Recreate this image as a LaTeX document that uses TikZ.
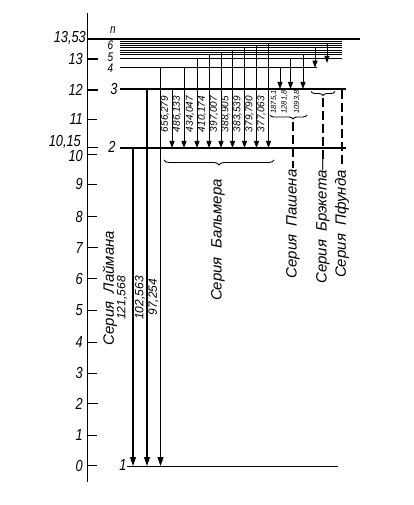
\documentclass[tikz,border=0pt]{standalone}
\usepackage{fontspec}
\setmainfont{Liberation Sans}
\newfontfamily\gostc{Liberation Sans}[FakeStretch=0.8]
\usetikzlibrary{arrows.meta,decorations.pathreplacing}
\tikzset{
  lvl/.style={line width=1.4pt},
  thinlvl/.style={line width=0.6pt},
  ion/.style={line width=2pt},
  tickmark/.style={line width=0.9pt},
  bigtick/.style={line width=1.6pt},
  tr/.style={line width=1pt,-{Triangle[width=5pt,length=7pt]}},
  ly/.style={line width=1.2pt,-{Triangle[width=6pt,length=9pt]}},
  ticklab/.style={anchor=east,inner sep=0pt,font=\gostc\itshape\fontsize{16}{16}\selectfont},
  lvllab/.style={inner sep=0pt,font=\gostc\itshape\fontsize{16}{16}\selectfont},
  smlvl/.style={inner sep=0pt,font=\gostc\itshape\fontsize{12.5}{12.5}\selectfont},
  wl/.style={rotate=90,inner sep=0pt,font=\itshape\fontsize{10}{10}\selectfont},
  wlsmall/.style={rotate=90,inner sep=0pt,font=\itshape\fontsize{7.5}{7.5}\selectfont},
  wlbig/.style={rotate=90,inner sep=0pt,font=\itshape\fontsize{12}{12}\selectfont},
  serlab/.style={rotate=90,inner sep=0pt,font=\itshape\fontsize{15}{15}\selectfont},
  brc/.style={line width=0.9pt,decorate},
  dsh/.style={line width=1.1pt,dash pattern=on 9pt off 4pt},
}
\begin{document}
\begin{tikzpicture}[x=1pt,y=-1pt]
\useasboundingbox (0,0) rectangle (413,505);
% axis
\draw[line width=1.4pt] (87.5,13) coordinate (axtop) -- (87.5,482) coordinate (axbot);
% ticks and labels
\foreach \v/\yy in {0/465.5,1/435,3/373,4/342,5/310,6/278.5,8/216.5,9/184,11/119}{
  \draw[tickmark] (87.5,\yy) -- (97,\yy);
  \node[ticklab] at (83,\yy) {\v};
}
\foreach \v/\yy in {2/403.5,7/247.5,12/90,13/59}{
  \draw[bigtick] (87.5,\yy) -- (98,\yy);
  \node[ticklab] at (83,\yy) {\v};
}
\draw[tickmark] (87.5,154) -- (97,154);
\node[ticklab] at (83,155.5) {10};
\draw[bigtick] (87.5,147.5) -- (98,147.5);
\node[ticklab] at (81,142) {10,15};
\node[ticklab] at (86,38) {13,53};
% levels
\draw[ion] (87.5,39) coordinate (Linf0) -- (360,39) coordinate (Linf1);
\foreach \yy in {41.5,43.3,45.7,47.7,50,52.3,54.3}{
  \draw[thinlvl] (120,\yy) -- (342,\yy);
}
\draw[thinlvl] (120,58) coordinate (L5a) -- (342,58) coordinate (L5b);
\draw[lvl] (120,67.7) coordinate (L4a) -- (317,67.7) coordinate (L4b);
\draw[lvl] (120,89) coordinate (L3a) -- (346,89) coordinate (L3b);
\draw[lvl] (120,148) coordinate (L2a) -- (346,148) coordinate (L2b);
\draw[line width=0.8pt] (127,466) coordinate (L1a) -- (338,466) coordinate (L1b);
% level labels
\node[smlvl] (nlab) at (113,30) {n};
\node[smlvl] (l6) at (110.5,45) {6};
\node[smlvl] (l5) at (110.5,57) {5};
\node[smlvl] (l4) at (110.5,68.5) {4};
\node[lvllab] (l3) at (114,89) {3};
\node[lvllab] (l2) at (112,147) {2};
\node[lvllab] (l1) at (123,465) {1};
% Lyman
\draw[ly] (133,148) -- (133,466);
\draw[ly] (147,89) -- (147,466);
\draw[ly] (160.5,67.7) -- (160.5,466);
\node[serlab] (lyman) at (110,288) {Серия\ \ Лаймана};
\node[wlbig] (w1) at (122,298) {121,568};
\node[wlbig] (w2) at (140,298) {102,563};
\node[wlbig] (w3) at (153.5,297) {97,254};
% Balmer
\foreach \xx/\ys/\lab in {172/89/{656,279},184/67.7/{486,133},197/58/{434,047},209/54.3/{410,174},221/52.3/{397,007},232.5/50/{388,905},244.5/47.7/{383,539},256.5/45.7/{379,790},268.5/43.3/{377,063}}{
  \draw[tr] (\xx,\ys) -- (\xx,148);
  \node[wl] at (\xx-7,114) {\lab};
}
\draw[brc,decoration={brace,mirror,amplitude=5pt}] (164,160) -- (274,160);
\node[serlab] (balmer) at (218,240) {Серия\ \ Бальмера};
% Paschen
\foreach \xx/\ys/\lab in {280/67.7/{1875,1},290.5/58/{1281,8},303/54.3/{1093,8}}{
  \draw[tr] (\xx,\ys) -- (\xx,89);
  \node[wlsmall] at (\xx-6,102) {\lab};
}
\draw[brc,decoration={brace,mirror,amplitude=4pt,aspect=0.62}] (270,115) -- (307,115);
\draw[dsh] (293,122) -- (293,168);
\node[serlab] (paschen) at (293,224) {Серия\ \ Пашена};
% Brackett
\draw[tr] (315,47.7) -- (315,67.7);
\draw[tr] (327,43.3) -- (327,63);
\draw[brc,decoration={brace,mirror,amplitude=4pt}] (311,91.5) -- (335,91.5);
\draw[dsh] (323,98) -- (323,160);
\node[serlab] (brackett) at (323,219.5) {Серия\ \ Брэкета—};
% Pfund
\draw[dsh] (342,90) -- (342,168);
\node[serlab] (pfund) at (342,224) {Серия\ \ Пфунда};
\end{tikzpicture}
\end{document}
